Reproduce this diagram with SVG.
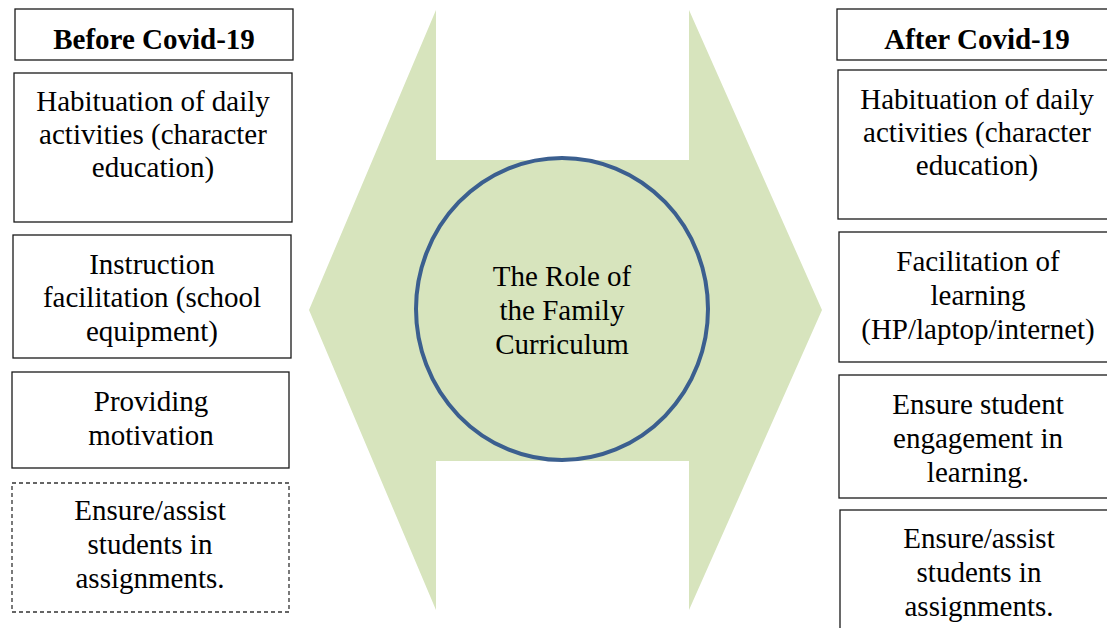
<svg xmlns="http://www.w3.org/2000/svg" width="1107" height="628" viewBox="0 0 1107 628">
<style>
.box{fill:#fff;stroke:#1a1a1a;stroke-width:1.3}
.dash{fill:#fff;stroke:#333;stroke-width:1.3;stroke-dasharray:4 3}
.t{font-family:"Liberation Serif","Times New Roman",serif;font-size:29px;fill:#000;text-anchor:middle}
.h{font-weight:bold}
</style>
<rect width="1107" height="628" fill="#fff"/>
<g id="arrow">
<polygon points="436,10 436,160 689,160 689,10 822,310 689,610 689,461 436,461 436,610 309,310" fill="#d7e4bd"/>
</g>
<g id="center">
<ellipse cx="562" cy="309" rx="146" ry="151" fill="#d7e4bd" stroke="#3b5f8f" stroke-width="4"/>
<text class="t" x="562"><tspan x="562" y="286">The Role of</tspan><tspan x="562" y="320">the Family</tspan><tspan x="562" y="354">Curriculum</tspan></text>
</g>
<g id="before-header">
<rect class="box" x="15" y="9" width="278" height="51"/>
<text class="t h" x="154" y="49">Before Covid-19</text>
</g>
<g id="before-1">
<rect class="box" x="14" y="73" width="278" height="149"/>
<text class="t"><tspan x="153" y="111">Habituation of daily</tspan><tspan x="153" y="144">activities (character</tspan><tspan x="153" y="177">education)</tspan></text>
</g>
<g id="before-2">
<rect class="box" x="13" y="235" width="278" height="123"/>
<text class="t"><tspan x="152" y="274">Instruction</tspan><tspan x="152" y="307">facilitation (school</tspan><tspan x="152" y="341">equipment)</tspan></text>
</g>
<g id="before-3">
<rect class="box" x="12" y="372" width="277" height="96"/>
<text class="t"><tspan x="151" y="411">Providing</tspan><tspan x="151" y="445">motivation</tspan></text>
</g>
<g id="before-4">
<rect class="dash" x="12" y="483" width="277" height="129"/>
<text class="t"><tspan x="150" y="520">Ensure/assist</tspan><tspan x="150" y="554">students in</tspan><tspan x="150" y="588">assignments.</tspan></text>
</g>
<g id="after-header">
<rect class="box" x="837" y="9" width="280" height="51"/>
<text class="t h" x="977" y="49">After Covid-19</text>
</g>
<g id="after-1">
<rect class="box" x="838" y="70" width="280" height="149"/>
<text class="t"><tspan x="977" y="109">Habituation of daily</tspan><tspan x="977" y="142">activities (character</tspan><tspan x="977" y="175">education)</tspan></text>
</g>
<g id="after-2">
<rect class="box" x="839" y="232" width="280" height="130"/>
<text class="t"><tspan x="978" y="271">Facilitation of</tspan><tspan x="978" y="305">learning</tspan><tspan x="978" y="339">(HP/laptop/internet)</tspan></text>
</g>
<g id="after-3">
<rect class="box" x="839" y="375" width="280" height="123"/>
<text class="t"><tspan x="978" y="414">Ensure student</tspan><tspan x="978" y="448">engagement in</tspan><tspan x="978" y="482">learning.</tspan></text>
</g>
<g id="after-4">
<rect class="box" x="840" y="510" width="280" height="140"/>
<text class="t"><tspan x="979" y="548">Ensure/assist</tspan><tspan x="979" y="582">students in</tspan><tspan x="979" y="616">assignments.</tspan></text>
</g>
<g id="connectors"></g>
</svg>
